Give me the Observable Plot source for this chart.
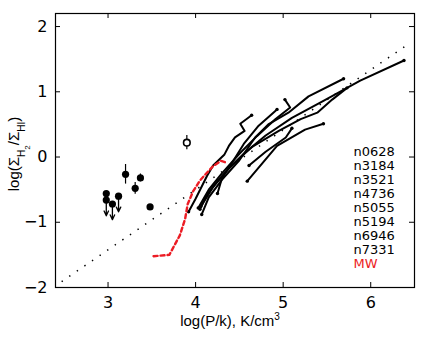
<!DOCTYPE html>
<html>
<head>
<meta charset="utf-8">
<script src="https://cdn.jsdelivr.net/npm/d3@7"></script>
<script src="https://cdn.jsdelivr.net/npm/@observablehq/plot@0.6"></script>
<style>
  html, body { margin: 0; padding: 0; background: #fff; }
  #chart { width: 436px; height: 341px; }
</style>
</head>
<body>
<div id="chart"></div>
<script>
// ---- data (log P/k, log Sigma_H2/Sigma_HI) ----
const n0628 = [[4.05,-0.80],[4.12,-0.60],[4.22,-0.42],[4.35,-0.22],[4.55,0.05],[4.80,0.33],[5.10,0.60],[5.46,0.86],[5.73,1.06],[5.88,1.17],[6.38,1.48]];
const n3184 = [[4.07,-0.88],[4.15,-0.62],[4.30,-0.35],[4.50,-0.05],[4.68,0.30],[4.83,0.50],[5.06,0.68],[5.29,0.93],[5.69,1.20]];
const n3521 = [[4.59,-0.37],[4.93,0.17],[5.25,0.42],[5.46,0.51]];
const n4736 = [[3.92,-0.84],[4.00,-0.64],[4.13,-0.29],[4.20,-0.13],[4.33,0.04],[4.38,0.17],[4.45,0.30],[4.56,0.40],[4.51,0.51],[4.64,0.64]];
const n5055 = [[4.03,-0.78],[4.15,-0.50],[4.30,-0.25],[4.50,0.05],[4.70,0.32],[4.91,0.58],[5.08,0.76],[5.02,0.88]];
const n5194 = [[4.25,-0.56],[4.30,-0.33],[4.42,-0.08],[4.55,0.20],[4.72,0.48],[4.93,0.73]];
const n6946 = [[4.06,-0.76],[4.20,-0.46],[4.40,-0.14],[4.65,0.16],[4.95,0.40],[5.20,0.58],[5.39,0.68],[5.56,0.88],[5.73,1.06]];
const n7331 = [[4.61,-0.13],[4.80,0.08],[5.03,0.30],[5.10,0.44]];
const mw = [[3.52,-1.52],[3.70,-1.50],[3.82,-1.20],[3.88,-0.95],[3.91,-0.72],[3.97,-0.53],[4.05,-0.36],[4.11,-0.27],[4.20,-0.14],[4.29,-0.06],[4.36,-0.09]];

// dwarf points (filled), with error bars and upper-limit arrows
const dwarfX   = [2.98, 2.98, 3.05, 3.12, 3.20, 3.31, 3.37, 3.48];
const dwarfY   = [-0.56, -0.66, -0.72, -0.60, -0.265, -0.48, -0.32, -0.765];
const dwarfErr = [0, 0, 0, 0, 0.15, 0.09, 0.06, 0.03];
const limitX    = [2.98, 3.05, 3.12];
const limitFrom = [-0.66, -0.72, -0.60];
const limitTo   = [-0.90, -0.96, -0.84];
// open circle point
const openX = [3.90];
const openY = [0.22];
const openErr = [0.11];

// Blitz & Rosolowsky relation endpoints (dotted)
const relation = [[2.47,-1.91],[6.45,1.75]];

const galaxyNames = ["n0628","n3184","n3521","n4736","n5055","n5194","n6946","n7331"];
const galaxySeries = [n0628,n3184,n3521,n4736,n5055,n5194,n6946,n7331];
const legendNames = [...galaxyNames, "MW"];
const xTicks = [3,4,5,6];
const yTicks = [-2,-1,0,1,2];

const RED = "#ec1c24";
const fmt = d => (d < 0 ? "\u2212" + Math.abs(d) : String(d));

// build tables
const lineRows = galaxySeries.flatMap((s, i) => s.map(([x, y]) => ({name: galaxyNames[i], x, y})));
const endRows = galaxySeries.flatMap((s, i) => [s[0], s[s.length - 1]].map(([x, y]) => ({name: galaxyNames[i], x, y})));
const mwRows = mw.map(([x, y]) => ({x, y}));
const relRows = relation.map(([x, y]) => ({x, y}));
const dwarfRows = dwarfX.map((x, i) => ({x, y: dwarfY[i], e: dwarfErr[i]}));
const limitRows = limitX.map((x, i) => ({x, y1: limitFrom[i], y2: limitTo[i]}));
const openRows = openX.map((x, i) => ({x, y: openY[i], e: openErr[i]}));

const W = 436, H = 341, ML = 55, MR = 22, MT = 13, MB = 54;
const FW = W - ML - MR, FH = H - MT - MB, TICK = 5;

const legendMarks = legendNames.map((n, i) => Plot.text([n], {
  frameAnchor: "bottom-right",
  textAnchor: "start",
  dx: -61,
  dy: -20 - (legendNames.length - 1 - i) * 13.9,
  fill: n === "MW" ? RED : "black",
  fontSize: 13,
  fontFamily: "DejaVu Sans"
}));

const chart = Plot.plot({
  width: W,
  height: H,
  marginLeft: ML,
  marginRight: MR,
  marginTop: MT,
  marginBottom: MB,
  style: {fontFamily: "DejaVu Sans", fontSize: "15px", background: "white", color: "black"},
  x: {domain: [2.4, 6.5]},
  y: {domain: [-2, 2.2]},
  marks: [
    Plot.frame({stroke: "black", strokeWidth: 1.2}),
    // inward ticks on all four sides
    Plot.ruleX(xTicks, {x: d => d, insetTop: FH - TICK, stroke: "black", strokeWidth: 1}),
    Plot.ruleX(xTicks, {x: d => d, insetBottom: FH - TICK, stroke: "black", strokeWidth: 1}),
    Plot.ruleY(yTicks, {y: d => d, insetRight: FW - TICK, stroke: "black", strokeWidth: 1}),
    Plot.ruleY(yTicks, {y: d => d, insetLeft: FW - TICK, stroke: "black", strokeWidth: 1}),
    Plot.axisX(xTicks, {anchor: "bottom", tickSize: 0, tickPadding: 9, label: null, fontSize: 16, tickFormat: fmt}),
    Plot.axisY(yTicks, {anchor: "left", tickSize: 0, tickPadding: 8, label: null, fontSize: 16, tickFormat: fmt}),
    Plot.line(relRows, {x: "x", y: "y", stroke: "black", strokeWidth: 1.5, strokeDasharray: "1.4,7.8", strokeLinecap: "butt"}),
    Plot.line(lineRows, {x: "x", y: "y", z: "name", stroke: "black", strokeWidth: 2, curve: "linear"}),
    Plot.dot(endRows, {x: "x", y: "y", r: 1.7, fill: "black"}),
    Plot.line(mwRows, {x: "x", y: "y", stroke: RED, strokeWidth: 2.4, strokeDasharray: "4,3"}),
    Plot.ruleX(dwarfRows.filter(d => d.e > 0), {x: "x", y1: d => d.y - d.e, y2: d => d.y + d.e, stroke: "black", strokeWidth: 1.2}),
    Plot.arrow(limitRows, {x1: "x", x2: "x", y1: "y1", y2: "y2", stroke: "black", strokeWidth: 1.3, headLength: 6, headAngle: 50}),
    Plot.dot(dwarfRows, {x: "x", y: "y", r: 3.6, fill: "black"}),
    Plot.ruleX(openRows, {x: "x", y1: d => d.y - d.e, y2: d => d.y + d.e, stroke: "black", strokeWidth: 1.2}),
    Plot.dot(openRows, {x: "x", y: "y", r: 3.3, fill: "white", stroke: "black", strokeWidth: 1.6}),
    ...legendMarks
  ]
});

document.getElementById("chart").appendChild(chart);

// axis titles with sub/superscripts
const svg = d3.select(chart);
const xt = svg.append("text")
  .attr("x", 230).attr("y", 326)
  .attr("text-anchor", "middle")
  .attr("font-family", "Liberation Sans")
  .attr("font-size", 15)
  .attr("fill", "black");
xt.append("tspan").text("log(P/k), K/cm");
xt.append("tspan").attr("dy", -6).attr("font-size", 10).text("3");

const yt = svg.append("text")
  .attr("transform", "translate(19,154) rotate(-90)")
  .attr("text-anchor", "middle")
  .attr("font-family", "Liberation Sans")
  .attr("font-size", 15)
  .attr("fill", "black");
yt.append("tspan").text("log(Σ");
yt.append("tspan").attr("dy", 6).attr("font-size", 10).text("H");
yt.append("tspan").attr("dy", 5).attr("font-size", 8).text("2");
yt.append("tspan").attr("dy", -11).attr("font-size", 15).text("/Σ");
yt.append("tspan").attr("dy", 6).attr("font-size", 10).text("HI");
yt.append("tspan").attr("dy", -6).attr("font-size", 15).text(")");
</script>
</body>
</html>
